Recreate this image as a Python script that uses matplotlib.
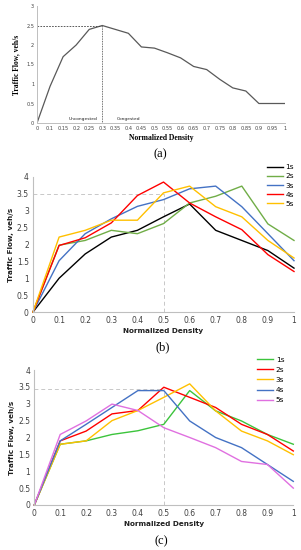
import matplotlib
matplotlib.use("Agg")
import matplotlib.pyplot as plt
import numpy as np

# Panel (a)
a_cats = ["0", "0.1", "0.15", "0.2", "0.25", "0.3", "0.35", "0.4", "0.45", "0.5",
          "0.55", "0.6", "0.65", "0.7", "0.75", "0.8", "0.85", "0.9", "0.95", "1"]
a_vals = [0, 0.94, 1.7, 2.0, 2.4, 2.5, 2.4, 2.3, 1.95, 1.92,
          1.8, 1.67, 1.45, 1.37, 1.12, 0.9, 0.82, 0.5, 0.5, 0.5]

# Panels (b), (c)
dens = [0, 0.1, 0.2, 0.3, 0.4, 0.5, 0.6, 0.7, 0.8, 0.9, 1.0]
b_labels = ["1s", "2s", "3s", "4s", "5s"]
b_1s = [0, 1.0, 1.72, 2.22, 2.42, 2.82, 3.2, 2.42, 2.12, 1.82, 1.3]
b_2s = [0, 1.98, 2.12, 2.42, 2.32, 2.62, 3.23, 3.43, 3.73, 2.61, 2.12]
b_3s = [0, 1.52, 2.32, 2.76, 3.13, 3.33, 3.65, 3.73, 3.12, 2.32, 1.52]
b_4s = [0, 1.97, 2.2, 2.64, 3.45, 3.85, 3.23, 2.82, 2.44, 1.7, 1.2]
b_5s = [0, 2.22, 2.42, 2.72, 2.72, 3.53, 3.73, 3.12, 2.82, 2.12, 1.6]

c_labels = ["1s", "2s", "3s", "4s", "5s"]
c_1s = [0, 1.8, 1.9, 2.09, 2.2, 2.39, 3.39, 2.79, 2.49, 2.09, 1.8]
c_2s = [0, 1.9, 2.19, 2.7, 2.8, 3.49, 3.19, 2.89, 2.39, 2.09, 1.6]
c_3s = [0, 1.8, 1.9, 2.5, 2.8, 3.19, 3.59, 2.79, 2.19, 1.9, 1.49]
c_4s = [0, 1.9, 2.39, 2.89, 3.39, 3.39, 2.49, 2.0, 1.7, 1.2, 0.7]
c_5s = [0, 2.09, 2.49, 2.99, 2.8, 2.29, 2.0, 1.7, 1.29, 1.2, 0.5]

b_colors = ["#000000", "#70AD47", "#4472C4", "#FF0000", "#FFC000"]
c_colors = ["#3CC43C", "#FF0000", "#FFC000", "#4472C4", "#E070E0"]

W, H = 301, 550
fig = plt.figure(figsize=(W / 100, H / 100), dpi=100)
fig.patch.set_facecolor("white")

def rect(l, r, top, bot):
    return [l / W, 1 - bot / H, (r - l) / W, (bot - top) / H]

spine_c = "#BFBFBF"

# ---------- (a)
axa = fig.add_axes(rect(37, 285, 6, 123))
xa = np.arange(len(a_cats))
axa.plot(xa, a_vals, color="#595959", lw=0.9)
axa.set_xlim(0, len(a_cats) - 1)
axa.set_ylim(0, 3)
axa.set_xticks(xa)
axa.set_xticklabels(a_cats, fontsize=3.6, color="#404040")
axa.set_yticks([0, 0.5, 1, 1.5, 2, 2.5, 3])
axa.set_yticklabels(["0", "0.5", "1", "1.5", "2", "2.5", "3"], fontsize=3.6, color="#404040")
for s in ["top", "right"]:
    axa.spines[s].set_visible(False)
for s in ["left", "bottom"]:
    axa.spines[s].set_color(spine_c)
    axa.spines[s].set_linewidth(0.7)
axa.tick_params(length=0, pad=2)
peak = 5
axa.plot([0, peak], [a_vals[peak], a_vals[peak]], ls=(0, (2, 1.5)), color="#404040", lw=0.6)
axa.plot([peak, peak], [0, a_vals[peak]], ls=(0, (1, 1)), color="#404040", lw=0.6)
axa.text(3.5, 0.05, "Uncongested", fontsize=3.2, ha="center", va="bottom", color="#202020")
axa.text(7.0, 0.05, "Congested", fontsize=3.2, ha="center", va="bottom", color="#202020")
axa.set_xlabel("Normalized Density", fontsize=5.5, fontweight="bold", family="Liberation Serif", labelpad=2)
axa.set_ylabel("Traffic Flow, veh/s", fontsize=5.5, fontweight="bold", family="Liberation Serif", labelpad=4)
fig.text(160 / W, 1 - 154 / H, "(a)", fontsize=9, family="Liberation Serif", ha="center", va="center")

def style_bc(ax):
    ax.set_xlim(0, 1)
    ax.set_ylim(0, 4)
    ax.set_xticks(dens)
    ax.set_xticklabels(["0", "0.1", "0.2", "0.3", "0.4", "0.5", "0.6", "0.7", "0.8", "0.9", "1"],
                       fontsize=5.5, color="#404040")
    ax.set_yticks([0, 0.5, 1, 1.5, 2, 2.5, 3, 3.5, 4])
    ax.set_yticklabels(["0", "0.5", "1", "1.5", "2", "2.5", "3", "3.5", "4"], fontsize=5.5, color="#404040")
    for s in ["top", "right"]:
        ax.spines[s].set_visible(False)
    for s in ["left", "bottom"]:
        ax.spines[s].set_color(spine_c)
        ax.spines[s].set_linewidth(0.8)
    ax.tick_params(length=0, pad=3)
    ax.set_xlabel("Normalized Density", fontsize=5.2, fontweight="bold", color="#202020", labelpad=2)
    ax.set_ylabel("Traffic Flow, veh/s", fontsize=5.2, fontweight="bold", color="#202020", labelpad=2)

# ---------- (b)
axb = fig.add_axes(rect(33, 294, 177, 312))
axb.plot([0, 0.5], [3.5, 3.5], ls=(0, (4, 3)), color="#C8C8C8", lw=0.7)
axb.plot([0.5, 0.5], [0, 3.5], ls=(0, (4, 3)), color="#C8C8C8", lw=0.7)
for vals, col, lab in zip([b_1s, b_2s, b_3s, b_4s, b_5s], b_colors, b_labels):
    axb.plot(dens, vals, color=col, lw=1.0, label=lab, clip_on=False)
style_bc(axb)
axb.legend(loc="upper left", bbox_to_anchor=(234 / 261, 1.095), frameon=False, fontsize=5.3,
           handlelength=2.2, handletextpad=0.3, labelspacing=0.4, borderpad=0, borderaxespad=0)
fig.text(163 / W, 1 - 347 / H, "(b)", fontsize=9, family="Liberation Serif", ha="center", va="center")

# ---------- (c)
axc = fig.add_axes(rect(34.3, 293.3, 370, 505))
axc.plot([0, 0.5], [3.45, 3.45], ls=(0, (4, 3)), color="#C8C8C8", lw=0.7)
axc.plot([0.5, 0.5], [0, 3.45], ls=(0, (4, 3)), color="#C8C8C8", lw=0.7)
for vals, col, lab in zip([c_1s, c_2s, c_3s, c_4s, c_5s], c_colors, c_labels):
    axc.plot(dens, vals, color=col, lw=1.0, label=lab, clip_on=False)
style_bc(axc)
axc.legend(loc="upper left", bbox_to_anchor=(223 / 259, 1.1), frameon=False, fontsize=5.3,
           handlelength=2.2, handletextpad=0.3, labelspacing=0.55, borderpad=0, borderaxespad=0)
fig.text(161 / W, 1 - 541 / H, "(c)", fontsize=9, family="Liberation Serif", ha="center", va="center")

fig.savefig("out.png", dpi=100, facecolor="white")
